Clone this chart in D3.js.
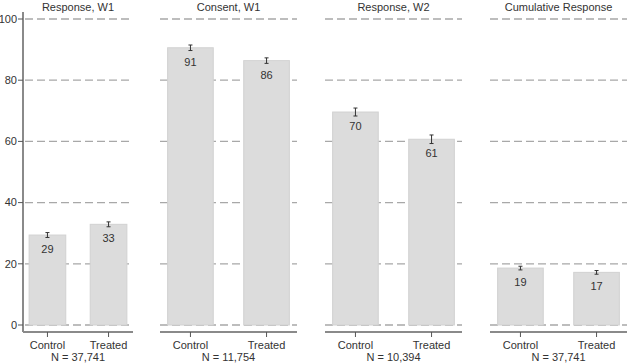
<!DOCTYPE html>
<html>
<head>
<meta charset="utf-8">
<script src="https://cdn.jsdelivr.net/npm/d3@7"></script>
<style>
  body { margin: 0; background: #fff; }
  text { font-family: "Liberation Sans", Arial, sans-serif; fill: #333; }
</style>
</head>
<body>
<div id="svgContainer"></div>
<script>
const panelTitles = ["Response, W1", "Consent, W1", "Response, W2", "Cumulative Response"];
const nLabels = ["N = 37,741", "N = 11,754", "N = 10,394", "N = 37,741"];
const groups = ["Control", "Treated"];
const controlValues = [29.4, 90.6, 69.6, 18.6];
const treatedValues = [32.9, 86.4, 60.7, 17.2];
const controlErr = [0.8, 0.9, 1.3, 0.6];
const treatedErr = [0.8, 0.9, 1.4, 0.6];
const yTicks = [0, 20, 40, 60, 80, 100];

const width = 627;
const height = 363;

const svg = d3.select("#svgContainer").append("svg")
    .attr("width", width)
    .attr("height", height);

// horizontal extents of each panel
const panelRanges = [[23, 133], [160, 297], [325, 462], [490, 627]];
const plotTop = 12;
const plotBottom = 332;

const y = d3.scaleLinear().domain([0, 100]).range([325, 19]);

// y axis (only on first panel)
const yAxis = svg.append("g");
yAxis.append("line")
    .attr("x1", 23).attr("x2", 23)
    .attr("y1", plotTop).attr("y2", plotBottom)
    .attr("stroke", "#8a8a8a").attr("stroke-width", 2);
yAxis.selectAll("line.tick")
    .data(yTicks)
    .join("line")
    .attr("class", "tick")
    .attr("x1", 18).attr("x2", 23)
    .attr("y1", d => y(d)).attr("y2", d => y(d))
    .attr("stroke", "#555").attr("stroke-width", 1);
yAxis.selectAll("text")
    .data(yTicks)
    .join("text")
    .attr("x", 17)
    .attr("y", d => y(d))
    .attr("dy", "0.35em")
    .attr("text-anchor", "end")
    .attr("font-size", 11)
    .text(d => d);

panelTitles.forEach((title, i) => {
    const [x0, x1] = panelRanges[i];
    const x = d3.scaleBand()
        .domain(groups)
        .range([x0, x1])
        .paddingInner(0.4)
        .paddingOuter(0.1);

    const rows = [
        {group: "Control", value: controlValues[i], err: controlErr[i]},
        {group: "Treated", value: treatedValues[i], err: treatedErr[i]}
    ];

    const g = svg.append("g");

    // dashed gridlines
    g.selectAll("line.grid")
        .data(yTicks)
        .join("line")
        .attr("class", "grid")
        .attr("x1", i === 0 ? x0 + 2 : x0)
        .attr("x2", x1)
        .attr("y1", d => y(d)).attr("y2", d => y(d))
        .attr("stroke", "#a8a8a8")
        .attr("stroke-width", 1.3)
        .attr("stroke-dasharray", "8,4");

    // bars
    g.selectAll("rect")
        .data(rows)
        .join("rect")
        .attr("x", d => x(d.group))
        .attr("y", d => y(d.value))
        .attr("width", x.bandwidth())
        .attr("height", d => y(0) - y(d.value))
        .attr("fill", "#dcdcdc")
        .attr("stroke", "#d2d2d2")
        .attr("stroke-width", 1);

    // error bars
    const cx = d => x(d.group) + x.bandwidth() / 2;
    const eb = g.selectAll("g.err")
        .data(rows)
        .join("g")
        .attr("class", "err")
        .attr("stroke", "#333")
        .attr("stroke-width", 1);
    eb.append("line")
        .attr("x1", cx).attr("x2", cx)
        .attr("y1", d => y(d.value + d.err)).attr("y2", d => y(d.value - d.err));
    eb.append("line")
        .attr("x1", d => cx(d) - 2).attr("x2", d => cx(d) + 2)
        .attr("y1", d => y(d.value + d.err)).attr("y2", d => y(d.value + d.err));
    eb.append("line")
        .attr("x1", d => cx(d) - 2).attr("x2", d => cx(d) + 2)
        .attr("y1", d => y(d.value - d.err)).attr("y2", d => y(d.value - d.err));

    // value labels
    g.selectAll("text.val")
        .data(rows)
        .join("text")
        .attr("class", "val")
        .attr("x", cx)
        .attr("y", d => y(d.value) + 18)
        .attr("text-anchor", "middle")
        .attr("font-size", 11)
        .text(d => Math.round(d.value));

    // x axis
    g.append("line")
        .attr("x1", x0).attr("x2", x1)
        .attr("y1", plotBottom).attr("y2", plotBottom)
        .attr("stroke", "#8a8a8a").attr("stroke-width", 2);
    g.selectAll("line.xtick")
        .data(groups)
        .join("line")
        .attr("class", "xtick")
        .attr("x1", d => x(d) + x.bandwidth() / 2)
        .attr("x2", d => x(d) + x.bandwidth() / 2)
        .attr("y1", plotBottom).attr("y2", plotBottom + 5)
        .attr("stroke", "#555");
    g.selectAll("text.xlab")
        .data(groups)
        .join("text")
        .attr("class", "xlab")
        .attr("x", d => x(d) + x.bandwidth() / 2)
        .attr("y", 349)
        .attr("text-anchor", "middle")
        .attr("font-size", 11)
        .text(d => d);

    g.append("text")
        .attr("x", (x0 + x1) / 2)
        .attr("y", 361)
        .attr("text-anchor", "middle")
        .attr("font-size", 11)
        .text(nLabels[i]);

    g.append("text")
        .attr("x", (x0 + x1) / 2)
        .attr("y", 11)
        .attr("text-anchor", "middle")
        .attr("font-size", 11)
        .text(title);
});
</script>
</body>
</html>
